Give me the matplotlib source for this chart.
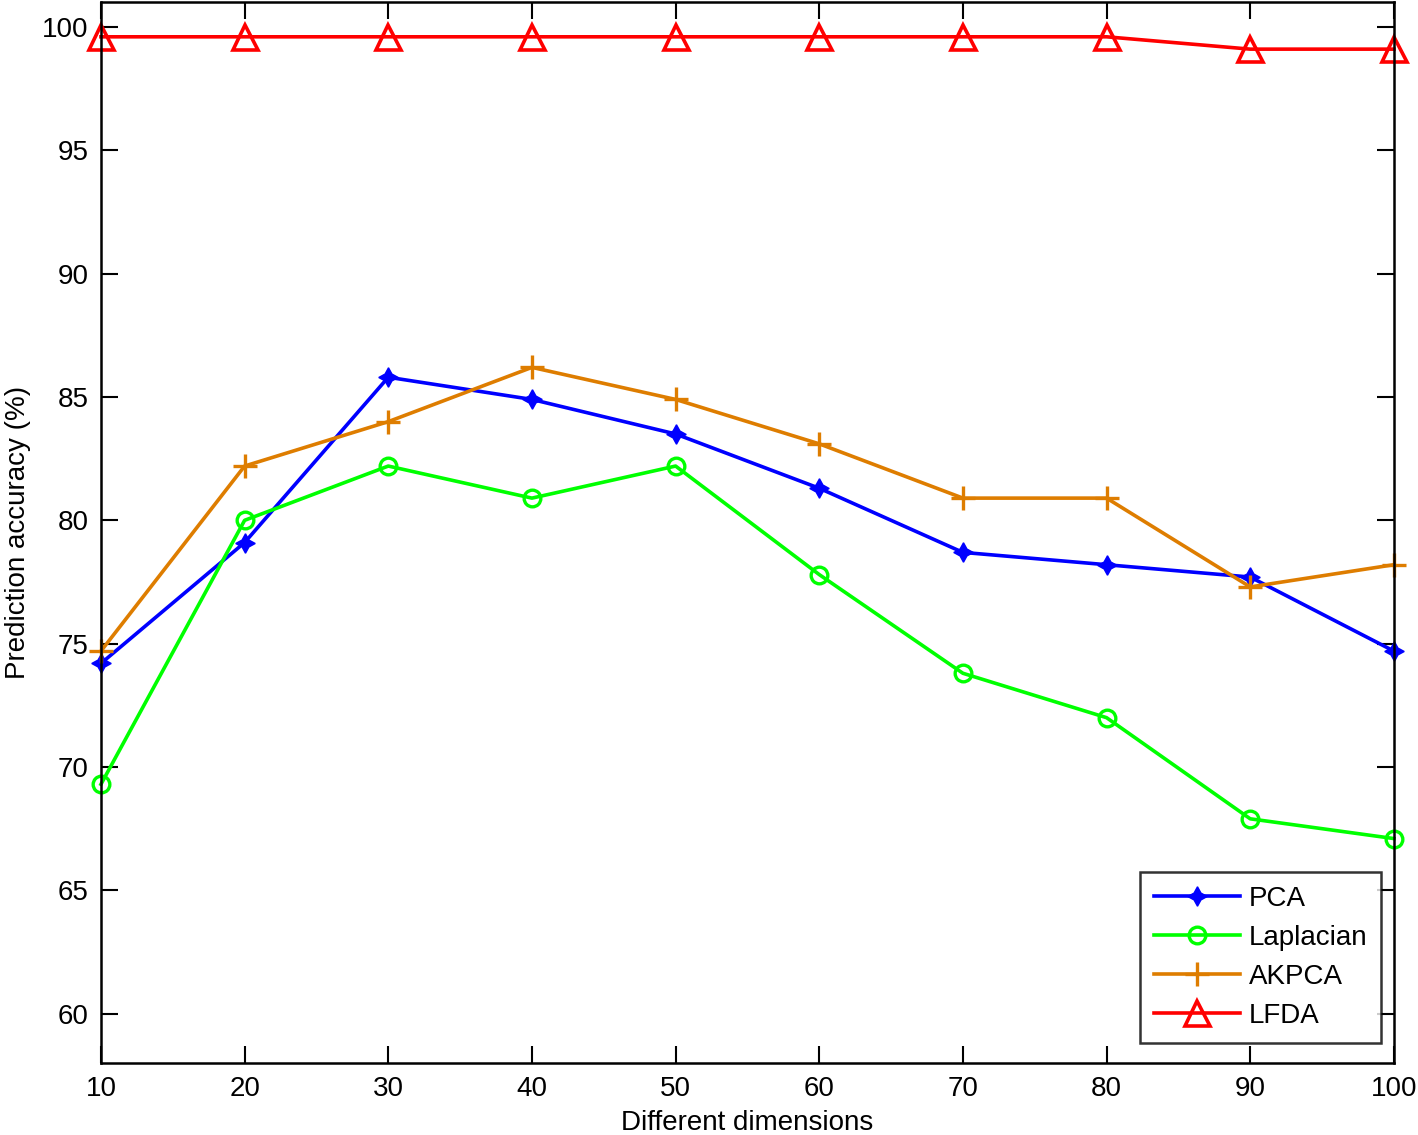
import matplotlib
matplotlib.use("Agg")
import matplotlib.pyplot as plt

plt.rcParams["font.family"] = ["Liberation Sans", "DejaVu Sans"]

dims = [10, 20, 30, 40, 50, 60, 70, 80, 90, 100]
pca = [74.2, 79.1, 85.8, 84.9, 83.5, 81.3, 78.7, 78.2, 77.7, 74.7]
laplacian = [69.3, 80.0, 82.2, 80.9, 82.2, 77.8, 73.8, 72.0, 67.9, 67.1]
akpca = [74.7, 82.2, 84.0, 86.2, 84.9, 83.1, 80.9, 80.9, 77.3, 78.2]
lfda = [99.6, 99.6, 99.6, 99.6, 99.6, 99.6, 99.6, 99.6, 99.1, 99.1]

fig = plt.figure(figsize=(14.18, 11.35), dpi=100)
ax = fig.add_axes([0.0712, 0.0634, 0.9118, 0.9346])

lw = 2.6
ax.plot(dims, pca, color="#0000ff", lw=lw, marker=(4, 1, 0), ms=14,
        mfc="#0000ff", mec="#0000ff", label="PCA", clip_on=False)
ax.plot(dims, laplacian, color="#00ff00", lw=lw, marker="o", ms=12,
        mfc="none", mec="#00ff00", mew=2.4, label="Laplacian", clip_on=False)
ax.plot(dims, akpca, color="#de7d00", lw=lw, marker="+", ms=17,
        mec="#de7d00", mew=2.4, label="AKPCA", clip_on=False)
ax.plot(dims, lfda, color="#ff0000", lw=lw, marker="^", ms=18,
        mfc="none", mec="#ff0000", mew=2.6, label="LFDA", clip_on=False)

ax.set_xlim(10, 100)
ax.set_ylim(58, 101)
ax.set_xticks(dims)
ax.set_yticks([60, 65, 70, 75, 80, 85, 90, 95, 100])
ax.tick_params(direction="in", length=12, width=1.5, labelsize=20,
               top=True, right=True, pad=9)
for s in ax.spines.values():
    s.set_linewidth(1.8)

ax.set_xlabel("Different dimensions", fontsize=20, labelpad=6)
ax.set_ylabel("Prediction accuracy (%)", fontsize=20, labelpad=8)

leg = ax.legend(loc="lower right", bbox_to_anchor=(0.990, 0.019), fontsize=20,
                borderaxespad=0, frameon=True, fancybox=False, edgecolor="black",
                handlelength=3.1, borderpad=0.5, labelspacing=0.47,
                handletextpad=0.3)
leg.get_frame().set_linewidth(1.8)

fig.savefig("out.png", dpi=100)
